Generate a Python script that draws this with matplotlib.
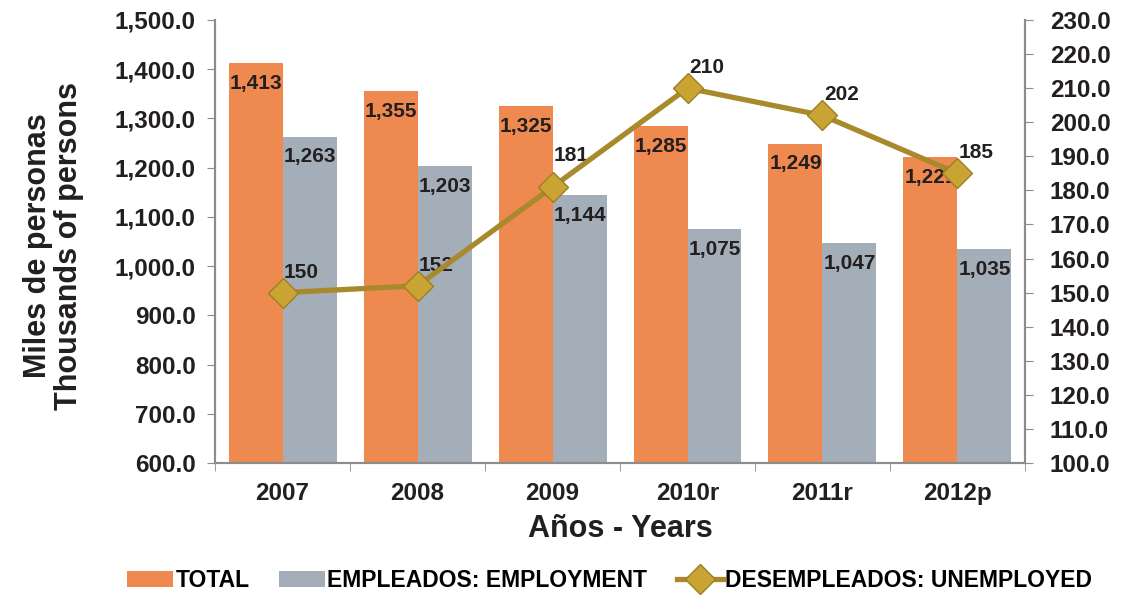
import numpy as np
import matplotlib.pyplot as plt
import matplotlib.ticker as mticker

plt.rcParams['font.family'] = ['Liberation Sans', 'DejaVu Sans']
plt.rcParams['font.weight'] = 'bold'

years = ['2007', '2008', '2009', '2010r', '2011r', '2012p']
total = [1413, 1355, 1325, 1285, 1249, 1221]
employed = [1263, 1203, 1144, 1075, 1047, 1035]
unemployed = [150, 152, 181, 210, 202, 185]

orange = '#EE8A4F'
grey = '#A3AEB8'
gold = '#A8892B'
txt = '#231F20'

fig = plt.figure(figsize=(11.23, 5.95), dpi=100)
ax = fig.add_axes([0.1915, 0.2218, 0.7212, 0.7446])
x = np.arange(len(years))
w = 0.4

ax.bar(x - w/2, total, w, color=orange, label='TOTAL', zorder=2)
ax.bar(x + w/2, employed, w, color=grey, label='EMPLEADOS: EMPLOYMENT', zorder=2)
for i in range(len(years)):
    ax.text(x[i] - w/2, total[i] - 22, f'{total[i]:,}', ha='center', va='top',
            fontsize=15, fontweight='bold', color=txt, zorder=5)
    ax.text(x[i] + w/2, employed[i] - 22, f'{employed[i]:,}', ha='center', va='top',
            fontsize=15, fontweight='bold', color=txt, zorder=5)

ax.set_ylim(600, 1500)
ax.set_xlim(-0.5, len(years) - 0.5)
ax.yaxis.set_major_locator(mticker.MultipleLocator(100))
ax.yaxis.set_major_formatter(mticker.FuncFormatter(lambda v, p: f'{v:,.1f}'))
ax.set_xticks(x)
ax.set_xticklabels(years)
ax.set_xticks(np.arange(-0.5, len(years)), minor=True)
ax.tick_params(axis='x', which='major', length=0, pad=14, labelsize=17.5)
ax.tick_params(axis='x', which='minor', length=6, color='#8C8C8C')
ax.tick_params(axis='y', length=6, color='#8C8C8C', labelsize=17.5, labelcolor=txt, pad=8)
for lbl in ax.get_xticklabels() + ax.get_yticklabels():
    lbl.set_fontweight('bold')
    lbl.set_color(txt)
ax.spines['top'].set_visible(False)
for s in ['left', 'bottom', 'right']:
    ax.spines[s].set_color('#8C8C8C')
    ax.spines[s].set_linewidth(1.5)

ax.set_ylabel('Miles de personas\nThousands of persons', fontsize=22, fontweight='bold',
              color=txt, linespacing=1.05)
ax.yaxis.set_label_coords(-0.162, 0.49)
ax.set_xlabel('Años - Years', fontsize=22, fontweight='bold', color=txt)
ax.xaxis.set_label_coords(0.5, -0.115)

ax2 = ax.twinx()
ax2.plot(x, unemployed, color=gold, lw=3.8, marker='D', markersize=15,
         markerfacecolor='#C9A433', markeredgecolor='#9C7F22', zorder=4,
         label='DESEMPLEADOS: UNEMPLOYED')
for i in range(len(years)):
    dy = 16 if unemployed[i] == 181 else 8
    ax2.annotate(str(unemployed[i]), (x[i], unemployed[i]), xytext=(1, dy),
                 textcoords='offset points', ha='left', va='bottom',
                 fontsize=15, fontweight='bold', color=txt)
ax2.set_ylim(100, 230)
ax2.yaxis.set_major_locator(mticker.MultipleLocator(10))
ax2.yaxis.set_major_formatter(mticker.FuncFormatter(lambda v, p: f'{v:.1f}'))
ax2.tick_params(axis='y', length=6, color='#8C8C8C', labelsize=17.5, labelcolor=txt, pad=12)
for lbl in ax2.get_yticklabels():
    lbl.set_fontweight('bold')
ax2.spines['top'].set_visible(False)
for s in ['left', 'bottom', 'right']:
    ax2.spines[s].set_color('#8C8C8C')
    ax2.spines[s].set_linewidth(1.5)

h1, l1 = ax.get_legend_handles_labels()
h2, l2 = ax2.get_legend_handles_labels()
fig.legend(h1 + h2, l1 + l2, loc='center', bbox_to_anchor=(0.543, 0.025), ncol=3,
           frameon=False, prop={'family': ['Liberation Sans'], 'weight': 'bold', 'size': 16.5},
           handlelength=2.0, handletextpad=0.1, columnspacing=1.3)

fig.savefig('out.png', dpi=100)
